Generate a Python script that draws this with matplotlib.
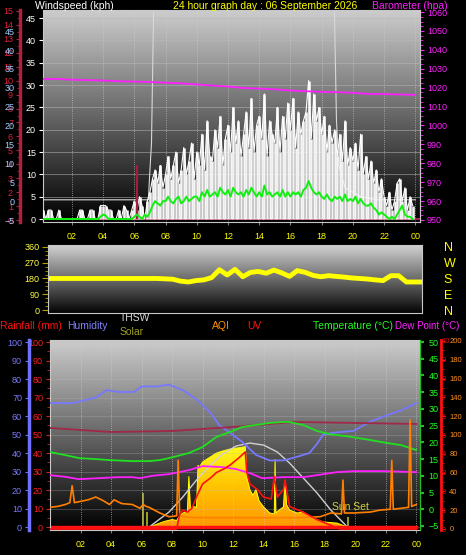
import numpy as np
import matplotlib.pyplot as plt
from matplotlib.ticker import MultipleLocator
from matplotlib.colors import LinearSegmentedColormap

plt.rcParams['font.family'] = ['Liberation Sans', 'DejaVu Sans']
plt.rcParams['font.size'] = 6.5

W, H = 466, 555

# ---------------- data ----------------
# top panel: 10 minute samples from 00:00 (kph)
gust = [2, 2, 0, 2, 2, 0,   0, 2, 0, 0, 0, 0,   0, 0, 0, 2, 2, 0,
        0, 2, 2, 0, 0, 3,   3, 3, 2, 2, 0, 0,   2, 0, 3, 2, 0, 2,
        4, 2, 5, 3, 0, 4,   6, 9, 11, 8, 12, 7,   10, 14, 9, 12, 15, 8,
        11, 16, 10, 13, 17, 9,   15, 12, 19, 11, 22, 14,   13, 20, 16, 23, 12, 18,
        21, 15, 25, 17, 22, 14,   19, 24, 16, 27, 15, 21,   23, 18, 28, 14, 22, 19,
        17, 25, 15, 23, 18, 26,   20, 27, 16, 24, 19, 22,   24, 31, 18, 28, 22, 25,
        19, 23, 15, 21, 17, 20,   14, 19, 13, 22, 12, 16,   13, 17, 11, 19, 10, 14,
        9, 13, 8, 11, 6, 9,   5, 3, 6, 2, 4, 8,   9, 4, 7, 2, 5, 3]
avg_wind = [0, 0, 0, 0, 0, 0,   0, 0, 0, 0, 0, 0,   0, 0, 0, 0, 0, 0,
            0, 0, 0, 0, 0, 0.5,   1, 0.8, 0, 0, 0, 0,   0, 0, 0, 0, 0, 0,
            0.5, 1, 0.5, 0, 1, 0.5,   1.5, 3, 4, 3.5, 3, 4,   4, 5, 4, 3.5, 4.5, 5,
            3.5, 4, 5, 4, 4.5, 5,   5, 4, 6, 5, 6.5, 5,   5.5, 6, 5, 7, 6, 5.5,
            6.5, 5, 7, 6, 5.5, 6,   5, 6.5, 5.5, 7, 6, 5,   6, 5, 7.5, 5.5, 6, 5,
            5.5, 6, 5, 6.5, 5, 6,   5, 6, 5.5, 6, 5, 6.5,   7, 8.5, 7, 6, 5.5, 6,
            5, 4.5, 5.5, 4.5, 4, 5,   4.5, 5, 4, 5.5, 4, 4.5,   4, 5, 3.5, 4.5, 3.5, 3,
            3, 3.5, 2.5, 2, 1, 1.5,   1, 0.5, 0, 0.5, 0, 1,   2, 3, 1, 0.5, 0.5, 0]
t10 = np.arange(len(gust)) / 6.0

baro_hours = list(range(25))
barometer = [1024.6, 1024.6, 1024.2, 1024.0, 1023.8, 1023.4, 1023.2, 1023.0, 1022.6,
             1022.3, 1021.7, 1021.1, 1020.6, 1019.8, 1019.5, 1019.1, 1018.5, 1018.1,
             1017.8, 1017.6, 1017.3, 1016.7, 1016.6, 1016.4, 1016.2]

grey_t = [0, 6.9, 7.0, 7.1, 7.25, 18.8, 18.95, 19.1, 19.5, 20.5, 21.5, 24]
grey_v = [4.3, 4.3, 11, 17, 50, 50, 22, 12, 7, 5, 4.3, 4.3]

# middle panel: wind direction every 30 minutes
dir_hours = np.arange(49) / 2.0
wind_dir = [180] * 15 + [178, 176, 165, 160, 168, 172, 185, 230, 200, 232, 190, 215,
                         220, 210, 228, 212, 192, 225, 215, 198, 190, 196, 192, 188,
                         183, 180, 177, 172, 168, 196, 196, 160, 160, 160]

# bottom panel
hum_t = [0, 1.5, 2, 3, 3.7, 4.5, 5.5, 6, 7, 7.8, 8.7, 9.6, 10.5, 11.1, 11.8, 12.6, 13.5,
         14.4, 15.3, 16.2, 17, 17.5, 17.9, 18.6, 19.9, 21, 22.1, 23, 24]
humidity = [67, 67, 68, 70, 74, 73, 73, 76, 76, 77, 74, 69, 62, 55, 51, 46, 39, 36, 36,
            38, 40, 45, 50, 51, 52, 57, 60.5, 63, 67]

temp_t = [0, 1, 1.9, 3, 3.9, 5.4, 6.5, 7.2, 7.8, 9.1, 10, 10.9, 11.8, 12.6, 13.5, 14.4,
          15.3, 15.7, 16.6, 17.5, 18.4, 19.5, 21, 22.1, 23, 24]
temperature = [17.1, 16.2, 15.3, 15.0, 14.7, 14.4, 14.4, 14.7, 15.3, 16.8, 18.6, 21.6,
               23.1, 24.6, 25.2, 25.8, 26.1, 26.1, 25.2, 23.4, 22.4, 21.8, 20.7, 19.8,
               19.2, 17.7]

dew_t = [0, 1, 1.9, 3.2, 4.5, 5.4, 5.9, 6.7, 7.8, 9.1, 10, 11.3, 12.2, 13.1, 13.9, 15.3,
         16.6, 17.5, 18.8, 19.9, 22, 24]
dew_point = [10.2, 9.7, 9.0, 9.3, 9.6, 9.6, 9.3, 10.0, 10.5, 11.7, 12.9, 12.6, 12.0,
             10.8, 9.3, 9.6, 9.6, 10.2, 11.1, 11.4, 11.4, 11.1]

indoor_t = [0, 2, 4, 8, 12, 16, 20, 24]
indoor_temp = [24.3, 23.7, 23.1, 23.4, 24.6, 26.1, 25.8, 25.5]

solar_t = [6.5, 7.0, 7.5, 8.0, 8.3, 8.5, 8.7, 9.0, 9.1, 9.2, 9.4, 9.6, 9.7, 9.8, 10.0,
           10.5, 10.9, 11.3, 11.8, 12.2, 12.5, 12.8, 12.9, 13.1, 13.3, 13.5, 13.7, 14.0,
           14.4, 14.7, 14.75, 14.8, 15.0, 15.3, 15.4, 15.5, 15.7, 16.2, 16.6, 17.1, 17.5,
           17.9, 18.8, 19.5]
solar = [0, 15, 30, 40, 35, 60, 75, 80, 270, 90, 110, 105, 330, 320, 348, 374, 395, 406,
         417, 422, 425, 430, 267, 198, 170, 200, 140, 107, 75, 70, 360, 75, 90, 107, 250,
         120, 91, 75, 80, 53, 40, 27, 21, 0]

solar_max_t = [6.5, 7.8, 8.7, 9.6, 10.5, 11.3, 12.2, 13.1, 14.0, 14.9, 15.7, 16.6, 17.5,
               18.4, 19.5]
solar_max = [0, 80, 160, 251, 331, 390, 433, 449, 438, 401, 342, 262, 182, 91, 0]

uv_t = [0, 8.3, 8.5, 8.7, 9.0, 9.3, 9.6, 10.0, 10.5, 10.9, 11.4, 11.8, 12.4, 12.8, 12.9,
        13.1, 13.6, 14.0, 14.5, 14.7, 14.9, 15.3, 15.4, 15.7, 16.6, 17.5, 18.4, 19.0, 24]
uv = [0, 0, 0.8, 1.0, 0.9, 1.1, 1.7, 2.4, 2.7, 3.0, 3.2, 3.4, 3.8, 4.1, 3.0, 2.4, 2.1,
      1.7, 1.6, 2.8, 1.7, 2.1, 2.6, 1.2, 0.9, 0.5, 0.2, 0, 0]

aqi_t = [0, 0.5, 1.0, 1.3, 1.45, 1.6, 1.9, 2.5, 3.0, 3.5, 3.9, 4.2, 4.7, 5.4, 5.9, 6.1,
         6.3, 6.5, 7.2, 7.8, 8.3, 8.4, 8.5, 8.7, 9.5, 10.5, 12, 14, 16, 17.7, 18.4, 19.1,
         19.2, 19.3, 19.9, 21, 21.6, 22.3, 22.4, 22.5, 23, 23.5, 23.6, 23.7, 24]
aqi = [23, 24, 26, 28, 46, 28, 29, 31, 34, 30, 26, 31, 27, 26, 22, 26, 24, 23, 17, 13,
       14, 73, 15, 13, 12, 12, 12, 12, 12, 13, 17, 16, 52, 17, 17, 18, 20, 21, 73, 21,
       22, 23, 116, 24, 26]

rain_t = [0, 24]
rainfall = [0, 0]

sun_marks = [6.1, 6.35, 19.55]
sun_mark_h = [180, 80, 55]

hour_ticks = list(range(2, 25, 2))
hour_labels = ['%02d' % (h % 24) for h in hour_ticks]

# ---------------- helpers ----------------
fig = plt.figure(figsize=(W / 100, H / 100), dpi=100, facecolor='black')


def rect(l, t, r, b):
    return [l / W, 1 - b / H, (r - l) / W, (b - t) / H]


def gradient(rc, top=0.80, bottom=0.0):
    bg = fig.add_axes(rc, zorder=0)
    grad = np.linspace(top, bottom, 256).reshape(-1, 1)
    bg.imshow(grad, cmap='gray', vmin=0, vmax=1, aspect='auto',
              extent=(0, 1, 0, 1), interpolation='bilinear')
    bg.set_axis_off()
    return bg


def bare(a):
    a.set_facecolor('none')
    for s in a.spines.values():
        s.set_visible(False)
    a.tick_params(left=False, right=False, bottom=False, top=False,
                  labelleft=False, labelright=False, labelbottom=False)


def side_axis(a, side, offset, color, lw, labelcolor, lo, hi, step, minor=None, pad=2):
    a.spines[side].set_visible(True)
    a.spines[side].set_position(('axes', offset))
    a.spines[side].set_color(color)
    a.spines[side].set_linewidth(lw)
    a.yaxis.set_ticks_position(side)
    a.set_yticks(np.arange(lo, hi + step / 2, step))
    if minor:
        a.yaxis.set_minor_locator(MultipleLocator(minor))
    on = {'left': side == 'left', 'right': side == 'right'}
    a.tick_params(axis='y', which='both', left=on['left'], right=on['right'],
                  labelleft=on['left'], labelright=on['right'], color=color,
                  labelcolor=labelcolor, pad=pad, length=3)
    a.tick_params(axis='y', which='minor', length=2)


# ---------------- top panel: wind and barometer ----------------
r1 = rect(43, 10, 420, 222)
gradient(r1)
ax1 = fig.add_axes(r1, zorder=2)
ax1.set_facecolor('none')
ax1.axhline(0, color='#a0284a', lw=1.5, zorder=1)
ax1.plot(grey_t, grey_v, color='#d8d8d8', lw=0.8, zorder=2)
ax1.vlines(t10, 0, gust, color='#f4f4f4', lw=1.9, zorder=3)
ax1.plot(t10, gust, color='white', lw=0.8, zorder=3)
ax1.vlines([6.15], 0, [12], color='#a0203c', lw=1.6, zorder=3)
ax1.plot(t10, avg_wind, color='#10f010', lw=1.4, zorder=4)
ax1.set_xlim(0.15, 24.3)
ax1.set_ylim(-0.67, 46.8)
ax1.set_yticks(range(0, 46, 5))
ax1.set_xticks(hour_ticks, hour_labels)
ax1.yaxis.grid(True, color='#b8b8b8', lw=0.6, alpha=0.6)
ax1.xaxis.grid(True, color='#d0d0d0', lw=0.6, ls=':', alpha=0.8)
ax1.set_axisbelow(True)
for s in ax1.spines.values():
    s.set_color('#c8c8c8')
ax1.tick_params(axis='y', colors='white', length=3, pad=2)
ax1.tick_params(axis='x', colors='#808080', labelcolor='#ffff00', length=2, pad=5)

axb = fig.add_axes(r1, zorder=3, sharex=ax1)
bare(axb)
axb.plot(baro_hours, barometer, color='#ff20ff', lw=1.3)
axb.set_ylim(948.9, 1061.1)
side_axis(axb, 'right', 1.0, '#c8c8c8', 0.8, '#ff20ff', 950, 1060, 10, minor=2.5, pad=2)
axb.tick_params(axis='y', which='both', color='#ff20ff')

axr = fig.add_axes(r1, zorder=1, sharex=ax1)
bare(axr)
axr.set_ylim(-0.14, 15.07)
side_axis(axr, 'left', -23 / 377, '#b02040', 2.5, '#e02040', 0, 15, 1, minor=0.5, pad=2)

axl = fig.add_axes(r1, zorder=1, sharex=ax1)
bare(axl)
axl.set_ylim(-5.5, 50.6)
side_axis(axl, 'left', -23 / 377, '#b02040', 0, '#a0d0ff', -5, 45, 5, pad=4)
axl.tick_params(axis='y', length=0)

# ---------------- middle panel: wind direction ----------------
r2 = rect(48, 245, 422, 313)
gradient(r2, top=0.82, bottom=0.02)
ax2 = fig.add_axes(r2, zorder=2)
ax2.set_facecolor('none')
ax2.plot(dir_hours, wind_dir, color='#ffff00', lw=3.5, solid_joinstyle='round')
ax2.set_xlim(0, 24)
ax2.set_ylim(-17, 371)
ax2.set_xticks([])
ax2.set_yticks([0, 90, 180, 270, 360])
ax2.yaxis.set_minor_locator(MultipleLocator(22.5))
for s in ax2.spines.values():
    s.set_color('#c8c8c8')
ax2.tick_params(axis='y', which='both', color='#b0a000', labelcolor='#ffff40', length=4, pad=2)
ax2.tick_params(axis='y', which='minor', length=2)

ax2r = fig.add_axes(r2, zorder=3, sharex=ax2)
bare(ax2r)
ax2r.set_ylim(-17, 371)
ax2r.set_yticks([0, 90, 180, 270, 360], ['N', 'E', 'S', 'W', 'N'])
ax2r.tick_params(axis='y', right=False, labelright=True, labelcolor='#ffff00',
                 labelsize=9, pad=12)

# ---------------- bottom panel ----------------
r3 = rect(50, 340, 420, 530)
gradient(r3, top=0.80, bottom=0.0)

ax_sol = fig.add_axes(r3, zorder=1)
bare(ax_sol)
ax_sol.set_xlim(0, 24.25)
fill = ax_sol.fill_between(solar_t, 0, solar, color='#ffc000', lw=0)
sol_cmap = LinearSegmentedColormap.from_list('sol', ['#ff9800', '#ffc400', '#ffff20'])
img = ax_sol.imshow(np.linspace(0, 1, 256).reshape(-1, 1), cmap=sol_cmap, origin='lower',
                    aspect='auto', extent=(6.5, 19.5, 0, 440), zorder=2)
img.set_clip_path(fill.get_paths()[0], transform=ax_sol.transData)
ax_sol.plot(solar_t, solar, color='#ffff00', lw=0.7, zorder=3)
ax_sol.plot(solar_max_t, solar_max, color='#d0d0d0', lw=1.0, zorder=4)
ax_sol.vlines(sun_marks, 0, sun_mark_h, color='#b8b820', lw=1.2, zorder=4)
ax_sol.text(18.45, 80, 'Sun Set', color='#d0d040', fontsize=7.5, va='bottom', ha='left')
ax_sol.set_xlim(0, 24.25)
ax_sol.set_ylim(-16, 1000)

ax_rain = fig.add_axes(r3, zorder=2, sharex=ax_sol)
ax_rain.set_facecolor('none')
ax_rain.plot(rain_t, rainfall, color='#ff1010', lw=2.5)
ax_rain.set_ylim(-1.6, 101.1)
ax_rain.set_yticks(range(0, 101, 10))
ax_rain.yaxis.set_minor_locator(MultipleLocator(5))
ax_rain.set_xticks(hour_ticks, hour_labels)
ax_rain.xaxis.grid(True, color='#d0d0d0', lw=0.6, ls=':', alpha=0.8)
ax_rain.yaxis.grid(True, color='#b8b8b8', lw=0.5, alpha=0.4)
for s in ax_rain.spines.values():
    s.set_color('#c8c8c8')
ax_rain.tick_params(axis='y', which='both', color='#d02020', labelcolor='#ff2020',
                    length=3, pad=2)
ax_rain.tick_params(axis='y', which='minor', length=2)
ax_rain.tick_params(axis='x', colors='#808080', labelcolor='#ffff00', length=2, pad=5)

ax_hum = fig.add_axes(r3, zorder=3, sharex=ax_sol)
bare(ax_hum)
ax_hum.plot(hum_t, humidity, color='#7878ff', lw=1.3)
ax_hum.set_ylim(-1.6, 101.1)
side_axis(ax_hum, 'left', -21 / 370, '#7070ff', 2.5, '#7a7aff', 0, 100, 10, pad=2)

ax_temp = fig.add_axes(r3, zorder=4, sharex=ax_sol)
bare(ax_temp)
ax_temp.plot(indoor_t, indoor_temp, color='#a02848', lw=1.3)
ax_temp.plot(temp_t, temperature, color='#20e020', lw=1.3)
ax_temp.plot(dew_t, dew_point, color='#ff20ff', lw=1.3)
ax_temp.set_ylim(-6.2, 50.6)
side_axis(ax_temp, 'right', 1.0, '#20c020', 0.8, '#20ff20', -5, 50, 5, pad=3)
ax_temp.tick_params(axis='y', width=1.5)

ax_aqi = fig.add_axes(r3, zorder=5, sharex=ax_sol)
bare(ax_aqi)
ax_aqi.plot(aqi_t, aqi, color='#ff8000', lw=1.2)
ax_aqi.set_ylim(-1.1, 201)
side_axis(ax_aqi, 'right', 1 + 21 / 370, '#ff1010', 2.0, '#ff9020', 0, 200, 20, minor=10, pad=3)
ax_aqi.tick_params(axis='y', labelsize=5.5)

ax_uv = fig.add_axes(r3, zorder=6, sharex=ax_sol)
bare(ax_uv)
ax_uv.plot(uv_t, uv, color='#ff1010', lw=1.2)
ax_uv.set_ylim(-0.05, 10.05)
side_axis(ax_uv, 'right', 1 + 21 / 370, '#ff1010', 0, '#e01010', 0, 10, 1, pad=0.5)
ax_uv.tick_params(axis='y', length=0, labelsize=5.5)
ax_sol.set_xlim(0, 24.25)

# ---------------- header texts ----------------
def label(x, y, s, c, size=7.5):
    fig.text(x / W, 1 - y / H, s, color=c, fontsize=size, ha='left', va='center')


label(35, 6, 'Windspeed (kph)', 'white')
label(173, 6, '24 hour graph day : 06 September 2026', '#ffff00')
label(372, 6, 'Barometer (hpa)', '#ff20ff')
label(0, 326, 'Rainfall (mm)', '#ff1010')
label(67, 326, 'Humidity', '#8080ff')
label(120, 318, 'THSW', '#d8d8d8')
label(120, 332, 'Solar', '#a0a020')
label(212, 326, 'AQI', '#ff9000')
label(247, 326, 'UV', '#ff1010')
label(313, 326, 'Temperature (\u00b0C)', '#20ff20')
label(395, 326, 'Dew Point (\u00b0C)', '#ff20ff', size=7)

fig.savefig('out.png', dpi=100, facecolor='black')
